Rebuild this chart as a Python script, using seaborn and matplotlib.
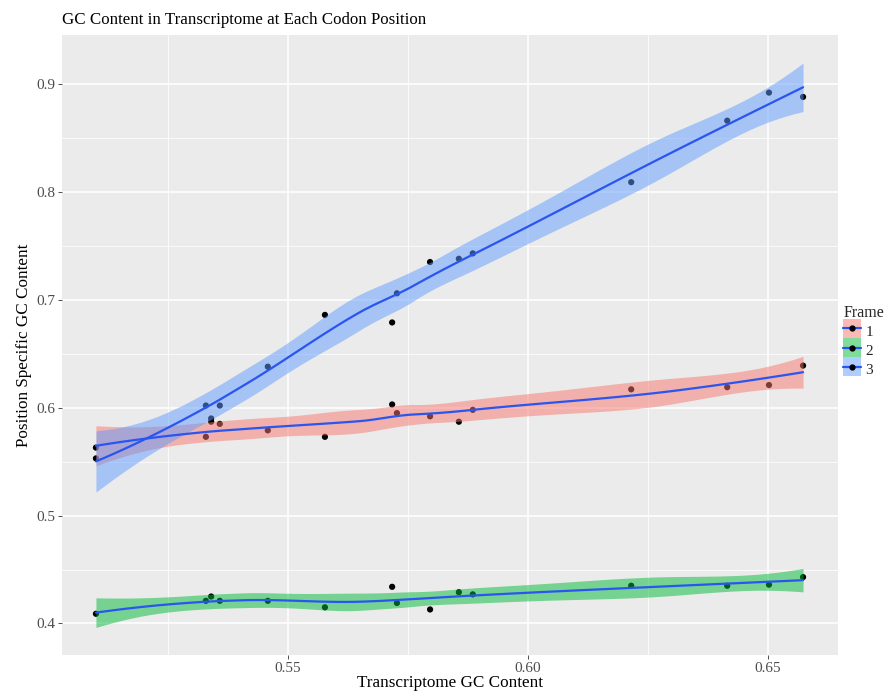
import numpy as np
import pandas as pd
import matplotlib
matplotlib.use("Agg")
import matplotlib.pyplot as plt
import seaborn as sns
from matplotlib.patches import Patch, Rectangle
from matplotlib.lines import Line2D
from matplotlib.legend_handler import HandlerTuple, HandlerPatch
from matplotlib.ticker import FixedLocator

# values
transcriptome_gc = [0.5100, 0.5329, 0.5340, 0.5358, 0.5458, 0.5577, 0.5717, 0.5727,
                    0.5796, 0.5856, 0.5885, 0.6215, 0.6415, 0.6502, 0.6573]
frame_1_gc = [0.563, 0.573, 0.587, 0.585, 0.579, 0.573, 0.603, 0.595,
              0.592, 0.587, 0.598, 0.617, 0.619, 0.621, 0.639]
frame_2_gc = [0.409, 0.421, 0.425, 0.421, 0.421, 0.415, 0.434, 0.419,
              0.413, 0.429, 0.427, 0.435, 0.435, 0.436, 0.443]
frame_3_gc = [0.553, 0.602, 0.590, 0.602, 0.638, 0.686, 0.679, 0.706,
              0.735, 0.738, 0.743, 0.809, 0.866, 0.892, 0.888]
frame_labels = ["1", "2", "3"]
frame_colors = ["#F8766D", "#00BA38", "#619CFF"]
smooth_color = "#2A55F0"

df = pd.DataFrame({
    "gc": transcriptome_gc * 3,
    "pos_gc": frame_1_gc + frame_2_gc + frame_3_gc,
    "frame": [f for f in frame_labels for _ in transcriptome_gc],
})


def local_rows(x, x0, q):
    # operator rows for the local quadratic's value and slope at x0
    d = np.abs(x - x0)
    h = np.sort(d)[q - 1]
    w = np.clip(1 - (d / h) ** 3, 0, None) ** 3
    X = np.column_stack([np.ones(len(x)), x - x0, (x - x0) ** 2])
    XtW = X.T * w
    B = np.linalg.solve(XtW @ X, XtW)
    return B[0], B[1]


def kd_vertices(x, fc):
    xs = np.sort(x)
    mu = 0.005 * (xs[-1] - xs[0])
    verts = [xs[0] - mu, xs[-1] + mu]

    def split(pts):
        if len(pts) <= fc:
            return
        m = (len(pts) + 1) // 2
        verts.append((pts[m - 1] + pts[m]) / 2)
        split(pts[:m])
        split(pts[m:])

    split(xs)
    return np.sort(np.array(verts))


def loess_fit(x, y, x_new, span=0.75, cell=0.2):
    # R-style loess: fits at kd-tree vertices, cubic Hermite in between
    x = np.asarray(x, float)
    y = np.asarray(y, float)
    n = len(x)
    q = int(np.floor(n * span))
    fc = int(np.floor(n * span * cell))
    verts = kd_vertices(x, fc)
    R0, R1 = zip(*[local_rows(x, v, q) for v in verts])
    R0, R1 = np.array(R0), np.array(R1)

    def rows_at(xe):
        xe = np.asarray(xe, float)
        i = np.clip(np.searchsorted(verts, xe, side="right") - 1, 0, len(verts) - 2)
        a, b = verts[i], verts[i + 1]
        hh = b - a
        t = (xe - a) / hh
        h00 = 2 * t ** 3 - 3 * t ** 2 + 1
        h10 = t ** 3 - 2 * t ** 2 + t
        h01 = -2 * t ** 3 + 3 * t ** 2
        h11 = t ** 3 - t ** 2
        return (h00[:, None] * R0[i] + (h10 * hh)[:, None] * R1[i]
                + h01[:, None] * R0[i + 1] + (h11 * hh)[:, None] * R1[i + 1])

    L = rows_at(x)
    res = y - L @ y
    M = np.eye(n) - L
    MM = M.T @ M
    d1 = np.trace(MM)
    d2 = np.trace(MM @ MM)
    sigma = np.sqrt(np.sum(res ** 2) / d1)
    dof = d1 ** 2 / d2
    Lnew = rows_at(x_new)
    fit = Lnew @ y
    se = sigma * np.sqrt(np.sum(Lnew ** 2, axis=1))
    z = 1.959964
    t = z + (z ** 3 + z) / (4 * dof) + (5 * z ** 5 + 16 * z ** 3 + 3 * z) / (96 * dof ** 2)
    return fit, fit - t * se, fit + t * se


sns.set_theme(style="darkgrid", rc={
    "axes.facecolor": "#EBEBEB",
    "figure.facecolor": "white",
    "grid.color": "white",
})
plt.rcParams["font.family"] = ["Liberation Serif", "DejaVu Serif"]

fig = plt.figure(figsize=(8.89, 6.91), dpi=100)
ax = fig.add_axes([62 / 889, 1 - 655 / 691, (838 - 62) / 889, (655 - 35) / 691])

sns.scatterplot(data=df, x="gc", y="pos_gc", color="black", s=20,
                edgecolor="none", ax=ax, zorder=2, legend=False)

x_grid = np.linspace(min(transcriptome_gc), max(transcriptome_gc), 80)
for lab, col in zip(frame_labels, frame_colors):
    sub = df[df["frame"] == lab]
    fit, lo, hi = loess_fit(sub["gc"], sub["pos_gc"], x_grid)
    ax.fill_between(x_grid, lo, hi, color=col, alpha=0.5, lw=0, zorder=3)
    ax.plot(x_grid, fit, color=smooth_color, lw=1.6, zorder=4)

ax.set_xlim(0.50293, 0.66458)
ax.set_ylim(0.3708, 0.9454)
ax.xaxis.set_major_locator(FixedLocator([0.55, 0.60, 0.65]))
ax.xaxis.set_minor_locator(FixedLocator([0.525, 0.575, 0.625]))
ax.yaxis.set_major_locator(FixedLocator([0.4, 0.5, 0.6, 0.7, 0.8, 0.9]))
ax.yaxis.set_minor_locator(FixedLocator([0.45, 0.55, 0.65, 0.75, 0.85]))
ax.set_xticklabels(["0.55", "0.60", "0.65"])
ax.set_yticklabels(["0.4", "0.5", "0.6", "0.7", "0.8", "0.9"])
ax.grid(which="major", color="white", lw=1.1)
ax.grid(which="minor", color="white", lw=0.55)
for s in ax.spines.values():
    s.set_visible(False)
ax.tick_params(which="major", length=2.75, width=0.6, color="#333333",
               labelcolor="#4D4D4D", labelsize=11, pad=2, bottom=True, left=True)
ax.tick_params(which="minor", length=0)

ax.set_title("GC Content in Transcriptome at Each Codon Position",
             loc="left", fontsize=12.2, pad=8, color="black")
ax.set_xlabel("Transcriptome GC Content", fontsize=12.3, labelpad=0, color="black")
ax.set_ylabel("Position Specific GC Content", fontsize=12.3, labelpad=3, color="black")


def centred_box(legend, orig_handle, xdescent, ydescent, width, height, fontsize):
    # key box centred on the same height as the smooth line
    mid = (height - ydescent) / 2
    return Rectangle((-xdescent, mid - height / 2), width, height)


handles = []
for col in frame_colors:
    patch = Patch(facecolor=col, alpha=0.5, edgecolor="none")
    line = Line2D([], [], color=smooth_color, lw=1.6, marker="o", markersize=3.5,
                  markerfacecolor="black", markeredgecolor="black")
    handles.append((patch, line))
leg = ax.legend(handles, frame_labels, title="Frame", loc="center left",
                bbox_to_anchor=(1.0, 0.505), frameon=False, fontsize=11,
                title_fontsize=11.5, handlelength=1.15, handleheight=1.55,
                handletextpad=0.3, labelspacing=0.0, borderaxespad=0.25,
                borderpad=0.1,
                handler_map={tuple: HandlerTuple(ndivide=1, pad=0),
                             Patch: HandlerPatch(patch_func=centred_box)})
leg._legend_box.align = "left"

fig.savefig("out.png", dpi=100)
